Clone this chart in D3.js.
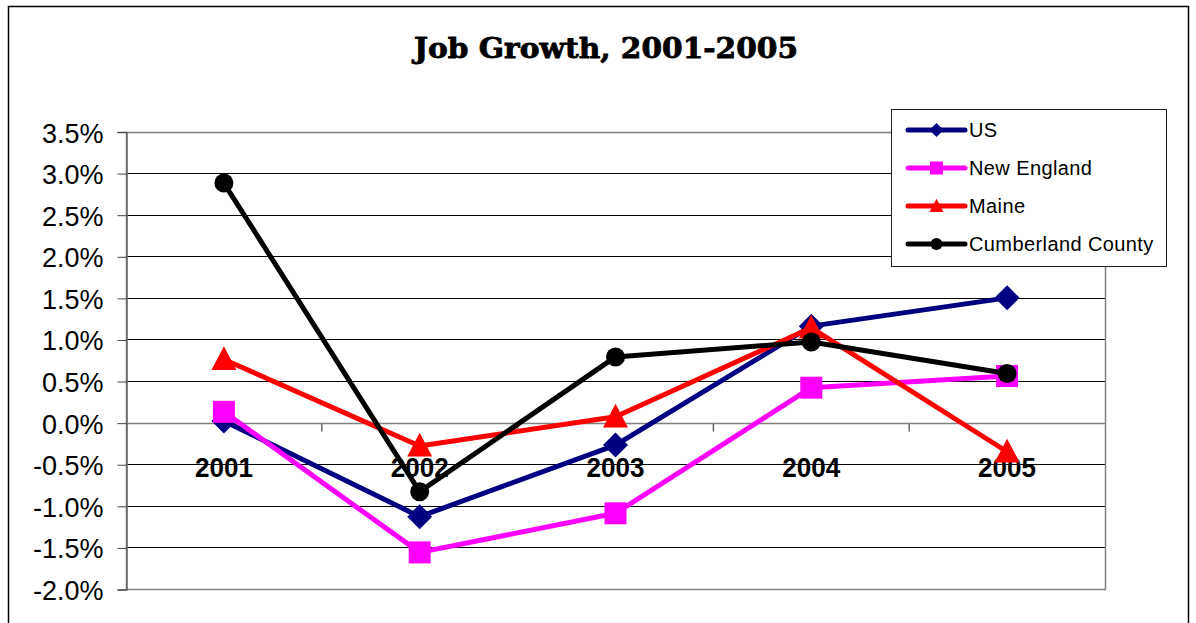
<!DOCTYPE html>
<html>
<head>
<meta charset="utf-8">
<script src="https://cdn.jsdelivr.net/npm/d3@7"></script>
<style>
  html, body { margin: 0; padding: 0; background: #fff; }
  svg { display: block; }
</style>
</head>
<body>
<svg id="chart" width="1196" height="623"></svg>
<script>
// Annual job growth, percent
const years = ["2001", "2002", "2003", "2004", "2005"];
const usValues = [0.02, -1.13, -0.27, 1.16, 1.50];
const newEnglandValues = [0.13, -1.56, -1.09, 0.42, 0.56];
const maineValues = [0.76, -0.28, 0.07, 1.14, -0.35];
const cumberlandValues = [2.88, -0.83, 0.79, 0.97, 0.59];
const yTicks = [3.5, 3.0, 2.5, 2.0, 1.5, 1.0, 0.5, 0.0, -0.5, -1.0, -1.5, -2.0];

// Marker shapes, drawn around (0,0) at a given half-width
const shapes = {
  diamond: r => `M0,${-r}L${r},0L0,${r}L${-r},0Z`,
  square: r => `M${-r},${-r}H${r}V${r}H${-r}Z`,
  triangle: r => `M0,${-r * 1.05}L${r},${r * 0.85}L${-r},${r * 0.85}Z`,
  circle: r => `M${r},0A${r},${r} 0 1,1 ${-r},0A${r},${r} 0 1,1 ${r},0Z`
};

const series = [
  { name: "US", values: usValues, color: "#000080", shape: "diamond", r: 12.5, lr: 7 },
  { name: "New  England", values: newEnglandValues, color: "#FF00FF", shape: "square", r: 11, lr: 6.5 },
  { name: "Maine", values: maineValues, color: "#FF0000", shape: "triangle", r: 12.5, lr: 7 },
  { name: "Cumberland County", values: cumberlandValues, color: "#000000", shape: "circle", r: 9.5, lr: 6 }
];

const svg = d3.select("#chart");
const plot = { left: 126, right: 1105, top: 131.5, bottom: 589 };
const fontSans = "Arial, 'Liberation Sans', sans-serif";

// Outer chart frame
svg.append("rect")
  .attr("x", 8.5).attr("y", 6.5)
  .attr("width", 1180).attr("height", 640)
  .attr("fill", "#fff").attr("stroke", "#000").attr("stroke-width", 1.5);

// Title
svg.append("text")
  .attr("x", 606).attr("y", 58)
  .attr("text-anchor", "middle")
  .attr("font-family", "'DejaVu Serif', serif")
  .attr("font-weight", "bold")
  .attr("font-size", 28)
  .attr("stroke", "#000").attr("stroke-width", 0.8)
  .attr("textLength", 384)
  .attr("lengthAdjust", "spacingAndGlyphs")
  .text("Job Growth, 2001-2005");

const x = d3.scaleBand().domain(years).range([plot.left, plot.right]);
const y = d3.scaleLinear().domain([-2.0, 3.5]).range([plot.bottom, plot.top]);
const cx = d => x(d) + x.bandwidth() / 2;

// Horizontal gridlines
svg.append("g").selectAll("line")
  .data(yTicks.filter(t => t !== 3.5 && t !== -2.0))
  .join("line")
  .attr("x1", plot.left).attr("x2", plot.right)
  .attr("y1", d => Math.round(y(d)) + 0.5).attr("y2", d => Math.round(y(d)) + 0.5)
  .attr("stroke", d => d === 0 ? "#808080" : "#000")
  .attr("stroke-width", d => d === 0 ? 1.5 : 1);

// Plot area border
svg.append("rect")
  .attr("x", plot.left + 0.5).attr("y", Math.round(plot.top) + 0.5)
  .attr("width", plot.right - plot.left).attr("height", Math.round(plot.bottom) - Math.round(plot.top))
  .attr("fill", "none").attr("stroke", "#808080").attr("stroke-width", 1.5);

// Y axis
const yAxis = d3.axisLeft(y)
  .tickValues(yTicks)
  .tickSize(9)
  .tickPadding(14)
  .tickFormat(d => d3.format(".1f")(d).replace("\u2212", "-") + "%");
const yg = svg.append("g").attr("transform", `translate(${plot.left + 0.5},0.5)`).call(yAxis);
yg.attr("font-size", null).attr("font-family", null);
yg.select(".domain").attr("stroke", "#666").attr("stroke-width", 1.5);
yg.selectAll(".tick line").attr("stroke", "#444");
yg.selectAll(".tick text")
  .attr("dy", "0.37em")
  .style("font-family", fontSans)
  .style("font-size", "27px")
  .attr("fill", "#000");

// Category ticks along the zero line
const zeroY = Math.round(y(0)) + 0.5;
svg.append("g").selectAll("line")
  .data(years.slice(1))
  .join("line")
  .attr("x1", d => x(d)).attr("x2", d => x(d))
  .attr("y1", zeroY).attr("y2", zeroY + 8)
  .attr("stroke", "#666").attr("stroke-width", 1.5);

// Category labels
svg.append("g").selectAll("text")
  .data(years)
  .join("text")
  .attr("x", d => cx(d))
  .attr("y", zeroY + 53.5)
  .attr("text-anchor", "middle")
  .attr("textLength", 58)
  .attr("lengthAdjust", "spacingAndGlyphs")
  .style("font-family", fontSans)
  .style("font-weight", "bold")
  .style("font-size", "28px")
  .text(d => d);

// Series lines and markers
const line = d3.line().x((v, i) => cx(years[i])).y(v => y(v));
series.forEach(s => {
  svg.append("path")
    .datum(s.values)
    .attr("d", line)
    .attr("fill", "none")
    .attr("stroke", s.color)
    .attr("stroke-width", 5)
    .attr("stroke-linejoin", "round");
  svg.append("g").selectAll("path")
    .data(s.values)
    .join("path")
    .attr("transform", (v, i) => `translate(${cx(years[i])},${y(v)})`)
    .attr("d", shapes[s.shape](s.r))
    .attr("fill", s.color);
});

// Legend
const legend = svg.append("g");
legend.append("rect")
  .attr("x", 891.5).attr("y", 109.5).attr("width", 275).attr("height", 157)
  .attr("fill", "#fff").attr("stroke", "#222").attr("stroke-width", 1);
series.forEach((s, i) => {
  const ly = 130 + i * 38;
  legend.append("line")
    .attr("x1", 908).attr("x2", 965).attr("y1", ly).attr("y2", ly)
    .attr("stroke", s.color).attr("stroke-width", 5).attr("stroke-linecap", "round");
  legend.append("path")
    .attr("transform", `translate(936.5,${ly})`)
    .attr("d", shapes[s.shape](s.lr))
    .attr("fill", s.color);
  legend.append("text")
    .attr("x", 969).attr("y", ly + 7)
    .style("font-family", fontSans)
    .style("font-size", "20px")
    .style("letter-spacing", "0.4px")
    .text(s.name);
});
</script>
</body>
</html>
